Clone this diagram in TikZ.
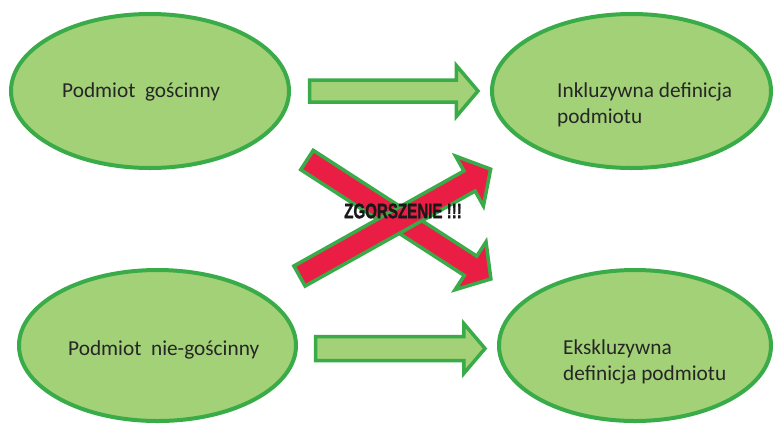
\documentclass[tikz,border=0pt]{standalone}
\usepackage{fontspec}
\usepackage{graphicx}
\setmainfont{Carlito}
\newfontfamily\shoutfont[UprightFont=* Bold, FakeBold=1.5]{Liberation Sans}
\usetikzlibrary{shapes.geometric}
\definecolor{ellfill}{HTML}{A3D177}
\definecolor{ellline}{HTML}{39AB48}
\definecolor{redfill}{HTML}{EA1E45}
\definecolor{txtgray}{HTML}{262626}
\tikzset{
  oval/.style={ellipse, draw=ellline, fill=ellfill, line width=4pt, inner sep=0pt},
  ovaltext/.style={anchor=base west, text=txtgray, font=\fontsize{21.3}{26}\selectfont, inner sep=0pt, align=left},
  greenarrow/.style={draw=ellline, fill=ellfill, line width=3.5pt, miter limit=10},
  redarrow/.style={draw=ellline, fill=redfill, line width=3.5pt, miter limit=10},
}
\newcommand{\blockarrow}[7]{% style, x, y, angle, length, shaft half, head half
  \begin{scope}[shift={(#2,#3)}, rotate=#4]
    \draw[#1] (0,-#6) -- ({#5-#7*0.85},-#6) -- ({#5-#7*0.85},-#7) -- (#5,0)
      -- ({#5-#7*0.85},#7) -- ({#5-#7*0.85},#6) -- (0,#6) -- cycle;
  \end{scope}}
\begin{document}
\begin{tikzpicture}[x=1pt,y=-1pt]
\useasboundingbox (0,0) rectangle (773,424);
% ellipses
\node[oval, minimum width=278pt, minimum height=154pt] (gosc) at (150,91) {};
\node[oval, minimum width=279pt, minimum height=154pt] (inkl) at (631.5,91) {};
\node[oval, minimum width=277pt, minimum height=151pt] (niegosc) at (157.5,345.5) {};
\node[oval, minimum width=272pt, minimum height=151pt] (ekskl) at (635,345.5) {};
% texts
\node[ovaltext] (t1) at (62,97) {Podmiot\ \ gościnny};
\node[ovaltext] (t2) at (557,123) {Inkluzywna definicja\\podmiotu};
\node[ovaltext] (t3) at (68,355) {Podmiot\ \ nie-gościnny};
\node[ovaltext] (t4) at (563,380) {Ekskluzywna\\definicja podmiotu};
% green block arrows
\blockarrow{greenarrow}{309.5}{91}{0}{168.5}{11}{25.5}
\blockarrow{greenarrow}{315.5}{348.5}{0}{169.5}{12}{25}
% red crossed arrows
\blockarrow{redarrow}{307}{160}{-32.9}{219}{11.5}{28.5}
\blockarrow{redarrow}{299.5}{276}{29.2}{219}{11.5}{28.5}
% label
\node[text=black!90, inner sep=0pt] (shout) at (403,211)
  {\scalebox{0.72}[1]{\shoutfont\fontsize{21}{22}\selectfont ZGORSZENIE !!!}};
\end{tikzpicture}
\end{document}
